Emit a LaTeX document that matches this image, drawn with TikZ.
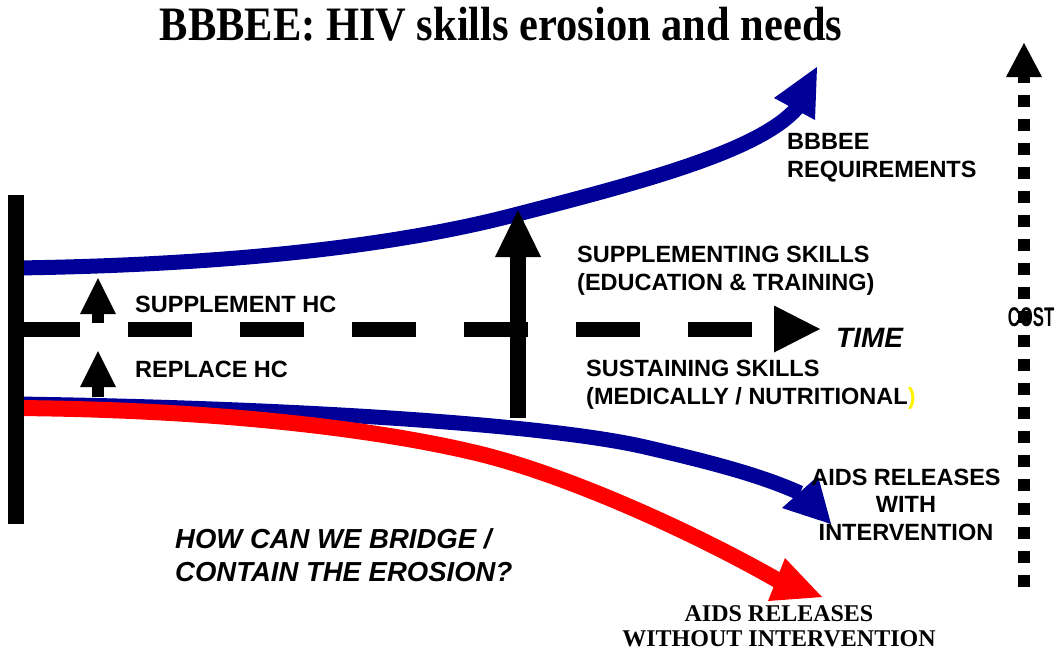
\documentclass[tikz,border=0pt]{standalone}
\usepackage{fontspec}
\setmainfont{Liberation Sans}
\newfontfamily\timesfont{Liberation Serif}
\usetikzlibrary{arrows.meta}
\definecolor{navyline}{RGB}{0,0,153}
\definecolor{redline}{RGB}{255,0,0}

\begin{document}
\begin{tikzpicture}[
                x=1pt, y=-1pt,
                caps/.style={font=\fontsize{23.5}{27.5}\selectfont\bfseries, inner sep=0pt, align=left},
                slanted/.style={font=\fontsize{27.5}{33}\selectfont\bfseries\itshape, inner sep=0pt, align=left},
                navyshaft/.style={draw=navyline, line width=15pt},
                redshaft/.style={draw=redline, line width=16pt},
                blackarrow/.style={line width=#1, -{Triangle[length=3*#1,width=3*#1,line width=0pt]}}
            ]
            \useasboundingbox (0,0) rectangle (1058,654);

            % Title
            \node[font=\timesfont\bfseries\fontsize{48}{54}\selectfont, anchor=base, inner sep=0pt] (title) at (501,40) {\scalebox{0.885}[1]{BBBEE: HIV skills erosion and needs}};

            % Axis points
            \coordinate (bartop) at (16,195);
            \coordinate (barbot) at (16,524);
            \coordinate (tstart) at (16,329);
            \coordinate (tend) at (820,329);
            \coordinate (costbot) at (1024,587);
            \coordinate (costtop) at (1024,43);

            % Curve points and heads
            \coordinate (upstart) at (16,268);
            \coordinate (upmid) at (518,214);
            \coordinate (upend) at (797,108);
            \coordinate (uptip) at (817,67);
            \coordinate (upleft) at (774,98);
            \coordinate (upright) at (815,120);
            \coordinate (withstart) at (16,404);
            \coordinate (withmid) at (645,447);
            \coordinate (withend) at (800,493);
            \coordinate (withtip) at (831,524);
            \coordinate (withleft) at (818,476);
            \coordinate (withright) at (782,508);
            \coordinate (nostart) at (16,408);
            \coordinate (nomid) at (472,452);
            \coordinate (noend) at (779,581);
            \coordinate (notip) at (822,597);
            \coordinate (noleft) at (785,558);
            \coordinate (noright) at (768,601);

            % Time axis
            \draw[line width=15pt, dash pattern=on 64pt off 48pt, -{Triangle[length=46pt,width=47pt,line width=0pt]}] (tstart) -- (tend);

            % Requirements and releases
            \draw[navyshaft] (upstart) .. controls (300,264) and (450,232) .. (upmid)
                .. controls (650,180) and (760,150) .. (upend);
            \fill[navyline] (uptip) -- (upleft) -- (upright) -- cycle;
            \draw[navyshaft] (withstart) .. controls (300,408) and (550,425) .. (withmid)
                .. controls (710,462) and (760,475) .. (withend);
            \fill[navyline] (withtip) -- (withleft) -- (withright) -- cycle;
            \draw[redshaft] (nostart) .. controls (250,410) and (400,435) .. (nomid)
                .. controls (560,472) and (690,530) .. (noend);
            \fill[redline] (notip) -- (noleft) -- (noright) -- cycle;

            \draw[line width=16pt] (bartop) -- (barbot);

            % Up arrows
            \coordinate (skillbot) at (518,418);
            \coordinate (skilltop) at (518,210);
            \draw[line width=16pt, -{Triangle[length=47pt,width=46pt,line width=0pt]}] (skillbot) -- (skilltop);
            \coordinate (suppbot) at (98,323);
            \coordinate (supptop) at (98,278);
            \coordinate (replbot) at (98,397);
            \coordinate (repltop) at (98,351);
            \draw[blackarrow=12pt] (suppbot) -- (supptop);
            \draw[blackarrow=12pt] (replbot) -- (repltop);

            % Cost axis
            \draw[line width=12pt, dash pattern=on 12pt off 12pt, -{Triangle[length=34pt,width=36pt,line width=0pt]}] (costbot) -- (costtop);

            % Labels (base = last line)
            \node[caps, anchor=base west] (req) at (787,177) {BBBEE\\REQUIREMENTS};
            \node[caps, anchor=base west] (supskills) at (577,290) {SUPPLEMENTING SKILLS\\(EDUCATION \& TRAINING)};
            \node[slanted, anchor=base west, font=\fontsize{28}{32}\selectfont\bfseries\itshape] (time) at (836,347) {TIME};
            \node[caps, anchor=base west] (sustskills) at (586,404) {SUSTAINING SKILLS\\(MEDICALLY / NUTRITIONAL{\color{yellow})}};
            \node[caps, anchor=base west] (supphc) at (135,312) {SUPPLEMENT HC};
            \node[caps, anchor=base west] (replhc) at (135,377) {REPLACE HC};
            \node[caps, anchor=base, font=\fontsize{27}{30}\selectfont\bfseries] (cost) at (1031,326) {\scalebox{0.62}[1]{COST}};
            \node[caps, anchor=base, align=center] (aidswith) at (906,540) {AIDS RELEASES\\WITH\\INTERVENTION};
            \node[slanted, anchor=base west] (bridge) at (175,581) {HOW CAN WE BRIDGE /\\CONTAIN THE EROSION?};
            \node[font=\timesfont\bfseries\fontsize{24}{25}\selectfont, anchor=base, align=center, inner sep=0pt] (aidswithout) at (779,646) {AIDS RELEASES\\WITHOUT INTERVENTION};

            \end{tikzpicture}
\end{document}
